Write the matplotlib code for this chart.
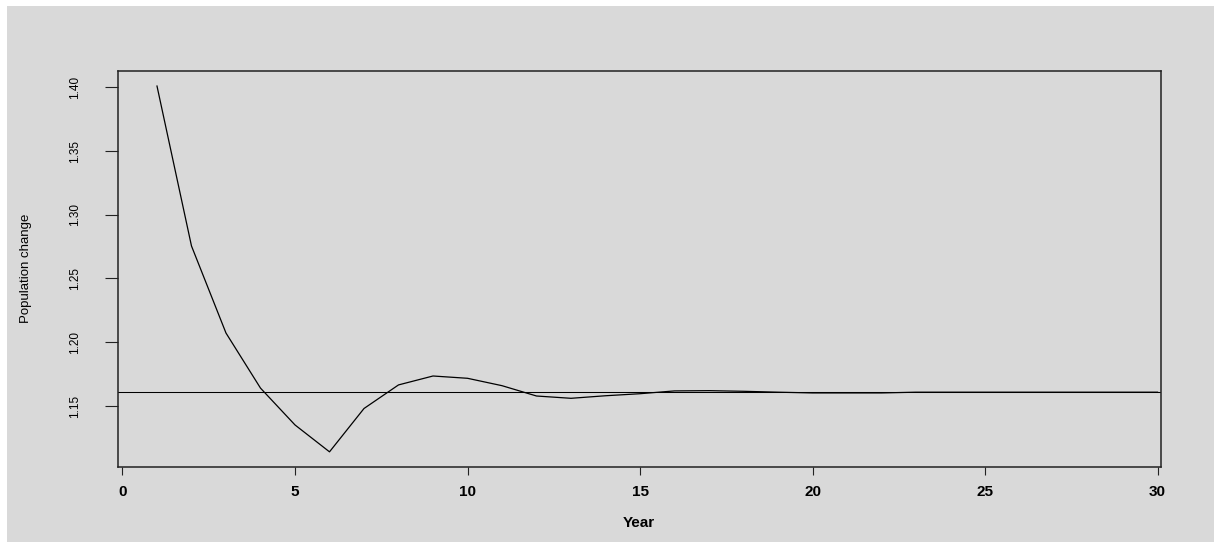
import matplotlib
matplotlib.use("Agg")
import matplotlib.pyplot as plt
from matplotlib.patches import Rectangle

# Population change per year (ratio to previous year)
years = list(range(1, 31))
pop_change = [1.401, 1.2755, 1.2072, 1.1640, 1.1351, 1.1140, 1.1480, 1.1665,
              1.1735, 1.1717, 1.1659, 1.1578, 1.1560, 1.1580, 1.1596, 1.1618,
              1.1620, 1.1615, 1.1608, 1.1602, 1.1602, 1.1602, 1.1608, 1.1608,
              1.1608, 1.1608, 1.1608, 1.1608, 1.1608, 1.1608]
equilibrium = 1.1608

x_ticks = [0, 5, 10, 15, 20, 25, 30]
y_ticks = [1.15, 1.20, 1.25, 1.30, 1.35, 1.40]
y_ticklabels = ["1.15", "1.20", "1.25", "1.30", "1.35", "1.40"]

bg = "#d9d9d9"
plt.rcParams['font.family'] = ['Liberation Sans', 'DejaVu Sans']

fig = plt.figure(figsize=(12.14, 5.42), dpi=100, facecolor="white")
# grey panel leaving a thin white strip on the top and left
fig.patches.append(Rectangle((7 / 1214, 0), 1 - 7 / 1214, 1 - 6 / 542,
                             transform=fig.transFigure, facecolor=bg,
                             edgecolor="none", zorder=-10))

ax = fig.add_axes([118 / 1214, 1 - 467 / 542, (1161 - 118) / 1214, (467 - 71) / 542])
ax.set_facecolor(bg)

ax.plot(years, pop_change, color="black", lw=0.9)
ax.axhline(equilibrium, color="black", lw=0.75)

ax.set_xlim(-0.13, 30.1)
ax.set_ylim(1.1021, 1.4128)

ax.set_xticks(x_ticks)
ax.set_xticklabels([str(t) for t in x_ticks], fontsize=11, fontweight="bold")
ax.set_yticks(y_ticks)
ax.set_yticklabels(y_ticklabels, fontsize=8.5, rotation=90, va="center")

ax.tick_params(axis="x", length=5.8, width=0.8, pad=7, color="#222222")
ax.tick_params(axis="y", length=9.4, width=0.8, pad=17, color="#222222")

for s in ax.spines.values():
    s.set_linewidth(1.1)
    s.set_color("#222222")

fig.text(26 / 1214, 1 - 268 / 542, "Population change", rotation=90,
         ha="center", va="center", fontsize=9.5)
fig.text(639 / 1214, 1 - 523 / 542, "Year", ha="center", va="center",
         fontsize=11, fontweight="bold")

fig.savefig("out.png", dpi=100, facecolor="white")
